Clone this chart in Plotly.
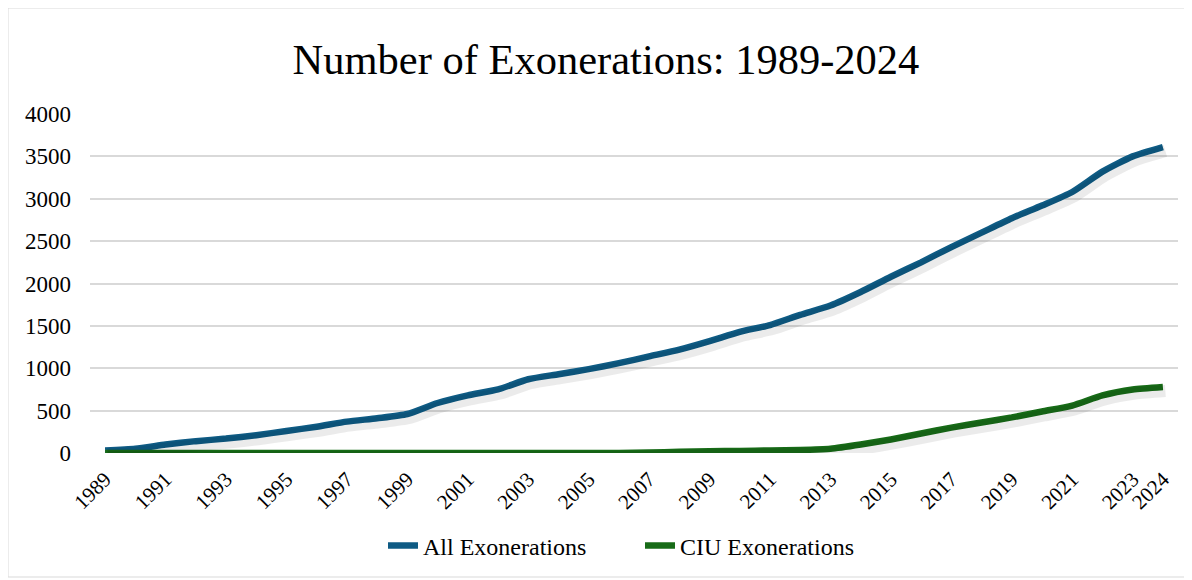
import plotly.graph_objects as go

years = list(range(1989, 2025))
all_exonerations = [30, 50, 100, 140, 170, 210, 260, 310, 370, 410, 460, 590, 680, 750, 870, 930,
                    990, 1060, 1140, 1220, 1320, 1430, 1510, 1630, 1740, 1900, 2080, 2250, 2430,
                    2600, 2770, 2920, 3080, 3320, 3500, 3610]
ciu_exonerations = [0, 0, 0, 0, 0, 0, 0, 0, 0, 0, 0, 0, 0, 0, 0, 0,
                    0, 0, 5, 15, 20, 25, 30, 35, 50, 100, 160, 230, 300,
                    360, 420, 490, 560, 680, 750, 780]
tick_years = [1989, 1991, 1993, 1995, 1997, 1999, 2001, 2003, 2005, 2007, 2009, 2011,
              2013, 2015, 2017, 2019, 2021, 2023, 2024]

# page body has an 8px margin, so layout pixel = photo pixel - 8
OFF = 8
W, H = 1192, 580
L, T = 90 - OFF, 114 - OFF
PLOT_R, PLOT_B = 1178 - OFF, 453 - OFF
R, B = W - PLOT_R, H - PLOT_B
pw, ph = PLOT_R - L, PLOT_B - T

def px_x(p):
    return (p - OFF - L) / pw

def px_y(p):
    return (PLOT_B - (p - OFF)) / ph

XR = [1988.5, 2024.5]
YR = [0, 4000]
# shadow axes: same data drawn a few pixels right/down
sdx, sdy = 2.5, 4.0
xs = (XR[1] - XR[0]) / pw * sdx
ys = (YR[1] - YR[0]) / ph * sdy

BLUE = "#0E5B84"
GREEN = "#176B17"

fig = go.Figure()
for yv in (all_exonerations, ciu_exonerations):
    fig.add_trace(go.Scatter(x=years, y=yv, mode="lines", showlegend=False, hoverinfo="skip",
                             xaxis="x2", yaxis="y2",
                             line=dict(color="rgba(0,0,0,0.08)", width=12, shape="spline", smoothing=0.6)))
fig.add_trace(go.Scatter(x=years, y=all_exonerations, mode="lines", name="All Exonerations",
                         line=dict(color=BLUE, width=6.5, shape="spline", smoothing=0.6)))
fig.add_trace(go.Scatter(x=years, y=ciu_exonerations, mode="lines", name="CIU Exonerations",
                         line=dict(color=GREEN, width=6.5, shape="spline", smoothing=0.6)))

SERIF = "Liberation Serif, Times New Roman, serif"
fig.update_layout(
    width=W, height=H,
    margin=dict(l=L, r=R, t=T, b=B),
    paper_bgcolor="white", plot_bgcolor="white",
    font=dict(family=SERIF, color="#000000"),
    title=dict(text="Number of Exonerations: 1989-2024", x=(606 - OFF) / W, xanchor="center",
               xref="container", y=1 - (59 - OFF) / H, yanchor="middle",
               font=dict(size=42.5, family=SERIF, color="#000")),
    xaxis=dict(range=XR, tickmode="array", tickvals=tick_years,
               ticktext=[str(t) for t in tick_years], tickangle=-45,
               tickfont=dict(size=21), showgrid=False, zeroline=False,
               showline=False, ticks="", ticklabelstandoff=9),
    yaxis=dict(range=YR, tickvals=list(range(0, 4001, 500)),
               tickfont=dict(size=23), showgrid=True, gridcolor="#D9D9D9", gridwidth=1.5,
               zeroline=False, showline=False, ticks="", ticklabelstandoff=18),
    xaxis2=dict(range=[XR[0] - xs, XR[1] - xs], overlaying="x", visible=False),
    yaxis2=dict(range=[YR[0] + ys, YR[1] + ys], overlaying="y", visible=False),
    legend=dict(orientation="h", x=px_x(640), xanchor="center", y=px_y(546), yanchor="middle",
                font=dict(size=24), entrywidth=212, entrywidthmode="pixels"),
    showlegend=True,
    shapes=[dict(type="rect", xref="paper", yref="paper",
                 x0=px_x(8), x1=px_x(1187), y0=px_y(577), y1=px_y(8),
                 line=dict(color="#D9D9D9", width=1), layer="below")],
)

fig.write_html("out.html")
